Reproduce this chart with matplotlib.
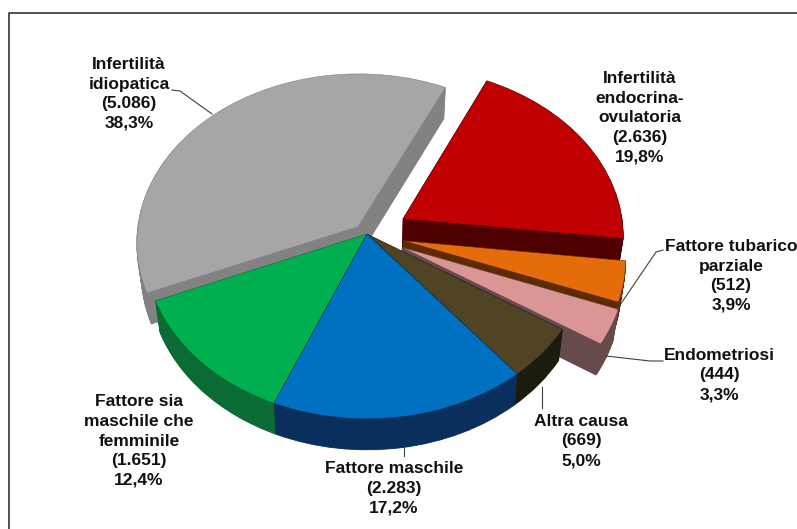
import matplotlib
matplotlib.use("Agg")
import matplotlib.pyplot as plt
from matplotlib.transforms import Transform, Affine2D
from matplotlib.patches import Wedge
from matplotlib.lines import Line2D
import numpy as np

plt.rcParams['font.family'] = ['Liberation Sans', 'DejaVu Sans']

# ---- data ----
names = ["Infertilità\nidiopatica", "Fattore sia\nmaschile che\nfemminile", "Fattore maschile",
         "Altra causa", "Endometriosi", "Fattore tubarico\nparziale",
         "Infertilità\nendocrina-\novulatoria"]
counts = [5086, 1651, 2283, 669, 444, 512, 2636]
count_labels = ["5.086", "1.651", "2.283", "669", "444", "512", "2.636"]
pct_labels = ["38,3%", "12,4%", "17,2%", "5,0%", "3,3%", "3,9%", "19,8%"]
explode = [0.06, 0, 0, 0, 0.175, 0.166, 0.187]
top_colors = ["#A6A6A6", "#00B050", "#0070C0", "#4F4525", "#D99694", "#E46C0A", "#C00000"]
side_colors = ["#828282", "#0A6B35", "#0A2F5C", "#1E1B0E", "#664A4C", "#5E2B00", "#4E0000"]
draw_order = [0, 6, 5, 4, 3, 1, 2]

W, H = 797, 529
CX, CY = 367, 234      # pixel position of the pie centre
K, CS, RX = 0.0909, 168.0, 221.0
DEPTH = 31
SHRINK = 0.02          # lower face is slightly narrower (perspective)


class Perspective(Transform):
    input_dims = output_dims = 2

    def transform_non_affine(self, xy):
        xy = np.asarray(xy, float)
        d = 1 + K * xy[:, 1]
        return np.column_stack((RX * xy[:, 0] / d, CS * xy[:, 1] / d))


fig = plt.figure(figsize=(W / 100, H / 100), dpi=100, facecolor="white")
ax = fig.add_axes([0, 0, 1, 1])
wedges, _ = ax.pie(counts, explode=explode, startangle=64.7, colors=top_colors,
                   radius=1.0, normalize=True)
ax.set_aspect("auto")
ax.set_xlim(-CX, W - CX)
ax.set_ylim(-(H - CY), CY)
ax.axis("off")
persp = Perspective()

z = 2.0
for i in draw_order:
    w = wedges[i]
    for d in range(DEPTH, 0, -1):
        s = Wedge(w.center, w.r, w.theta1, w.theta2, facecolor=side_colors[i],
                  edgecolor=side_colors[i], lw=0.6, zorder=z)
        lift = Affine2D().scale(1 - SHRINK * d / DEPTH, 1).translate(0, -d)
        s.set_transform(persp + lift + ax.transData)
        ax.add_patch(s)
        z += 0.001
    w.set_transform(persp + ax.transData)
    w.set_edgecolor(side_colors[i])
    w.set_linewidth(0.4)
    w.set_zorder(z)
    z += 0.001


def px(x, y):
    return x - CX, CY - y


label_pos = [(129, 94), (139, 441), (394, 488), (581, 441), (719, 375), (731, 276), (640, 118)]
for i, (lx, ly) in enumerate(label_pos):
    ax.text(*px(lx, ly), f"{names[i]}\n({count_labels[i]})\n{pct_labels[i]}",
            ha="center", va="center", ma="center", fontsize=12.5, fontweight="bold",
            color="#111111", linespacing=1.38, zorder=20)

leaders = [[(172, 90), (180, 91), (212, 114)],
           [(663, 250), (656, 252), (618, 308)],
           [(606, 356), (650, 361), (663, 361)],
           [(404, 447), (404, 456)],
           [(542, 387), (542, 408)]]
for pts in leaders:
    xs, ys = zip(*[px(*p) for p in pts])
    ax.add_line(Line2D(xs, ys, color="#404040", lw=0.8, zorder=15))

# outer frame
fx, fy = zip(*[px(*p) for p in [(9, 529), (9, 13), (797, 13)]])
ax.add_line(Line2D(fx, fy, color="#333333", lw=1.2, zorder=25))

fig.savefig("out.png", dpi=100)
